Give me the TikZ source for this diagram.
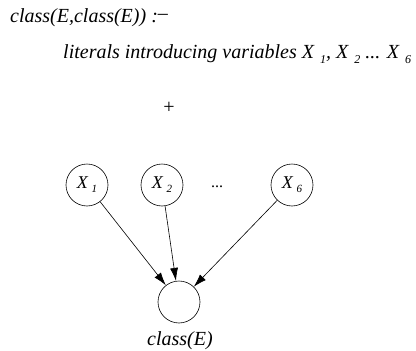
\documentclass[tikz,border=0pt]{standalone}
\usepackage{fontspec}
\setmainfont{Liberation Serif}
\usetikzlibrary{arrows.meta}
\newcommand{\subx}[1]{\hspace{4pt}\raisebox{-0.5ex}{\fontsize{11}{11}\selectfont #1}}
\newcommand{\subl}[1]{\hspace{6pt}\raisebox{-0.65ex}{\fontsize{12}{12}\selectfont #1}}
\tikzset{
  txt/.style={font=\fontsize{20}{22}\selectfont\itshape, inner sep=0pt},
  var/.style={draw, circle, minimum size=42pt, inner sep=0pt, line width=0.6pt, font=\fontsize{18}{20}\selectfont\itshape},
  arr/.style={-{Latex[length=13pt,width=8pt]}, line width=0.6pt}
}
\begin{document}
\begin{tikzpicture}[x=1pt,y=-1pt]
\useasboundingbox (0,0) rectangle (416,351);
\node[txt, anchor=base west] (head) at (10,22) {class(E,class(E)) :\raisebox{0.3ex}{--}};
\node[txt, anchor=base west] (lits) at (63,58) {literals introducing variables X\subl{1}, X\subl{2} ... X\subl{6}};
\node[font=\fontsize{20}{22}\selectfont, inner sep=0pt] (plus) at (169,108) {+};
\node[var] (x1) at (87,185) {X\subx{1}};
\node[var] (x2) at (162,185) {X\subx{2}};
\node[var] (x6) at (292,185) {X\subx{6}};
\node[font=\fontsize{16}{18}\selectfont, inner sep=0pt] (dots) at (217,187) {...};
\node[var] (cls) at (179,302) {};
\node[txt, anchor=base] (clab) at (180,345) {class(E)};
\draw[arr] (x1) -- (cls);
\draw[arr] (x2) -- (cls);
\draw[arr] (x6) -- (cls);
\end{tikzpicture}
\end{document}
